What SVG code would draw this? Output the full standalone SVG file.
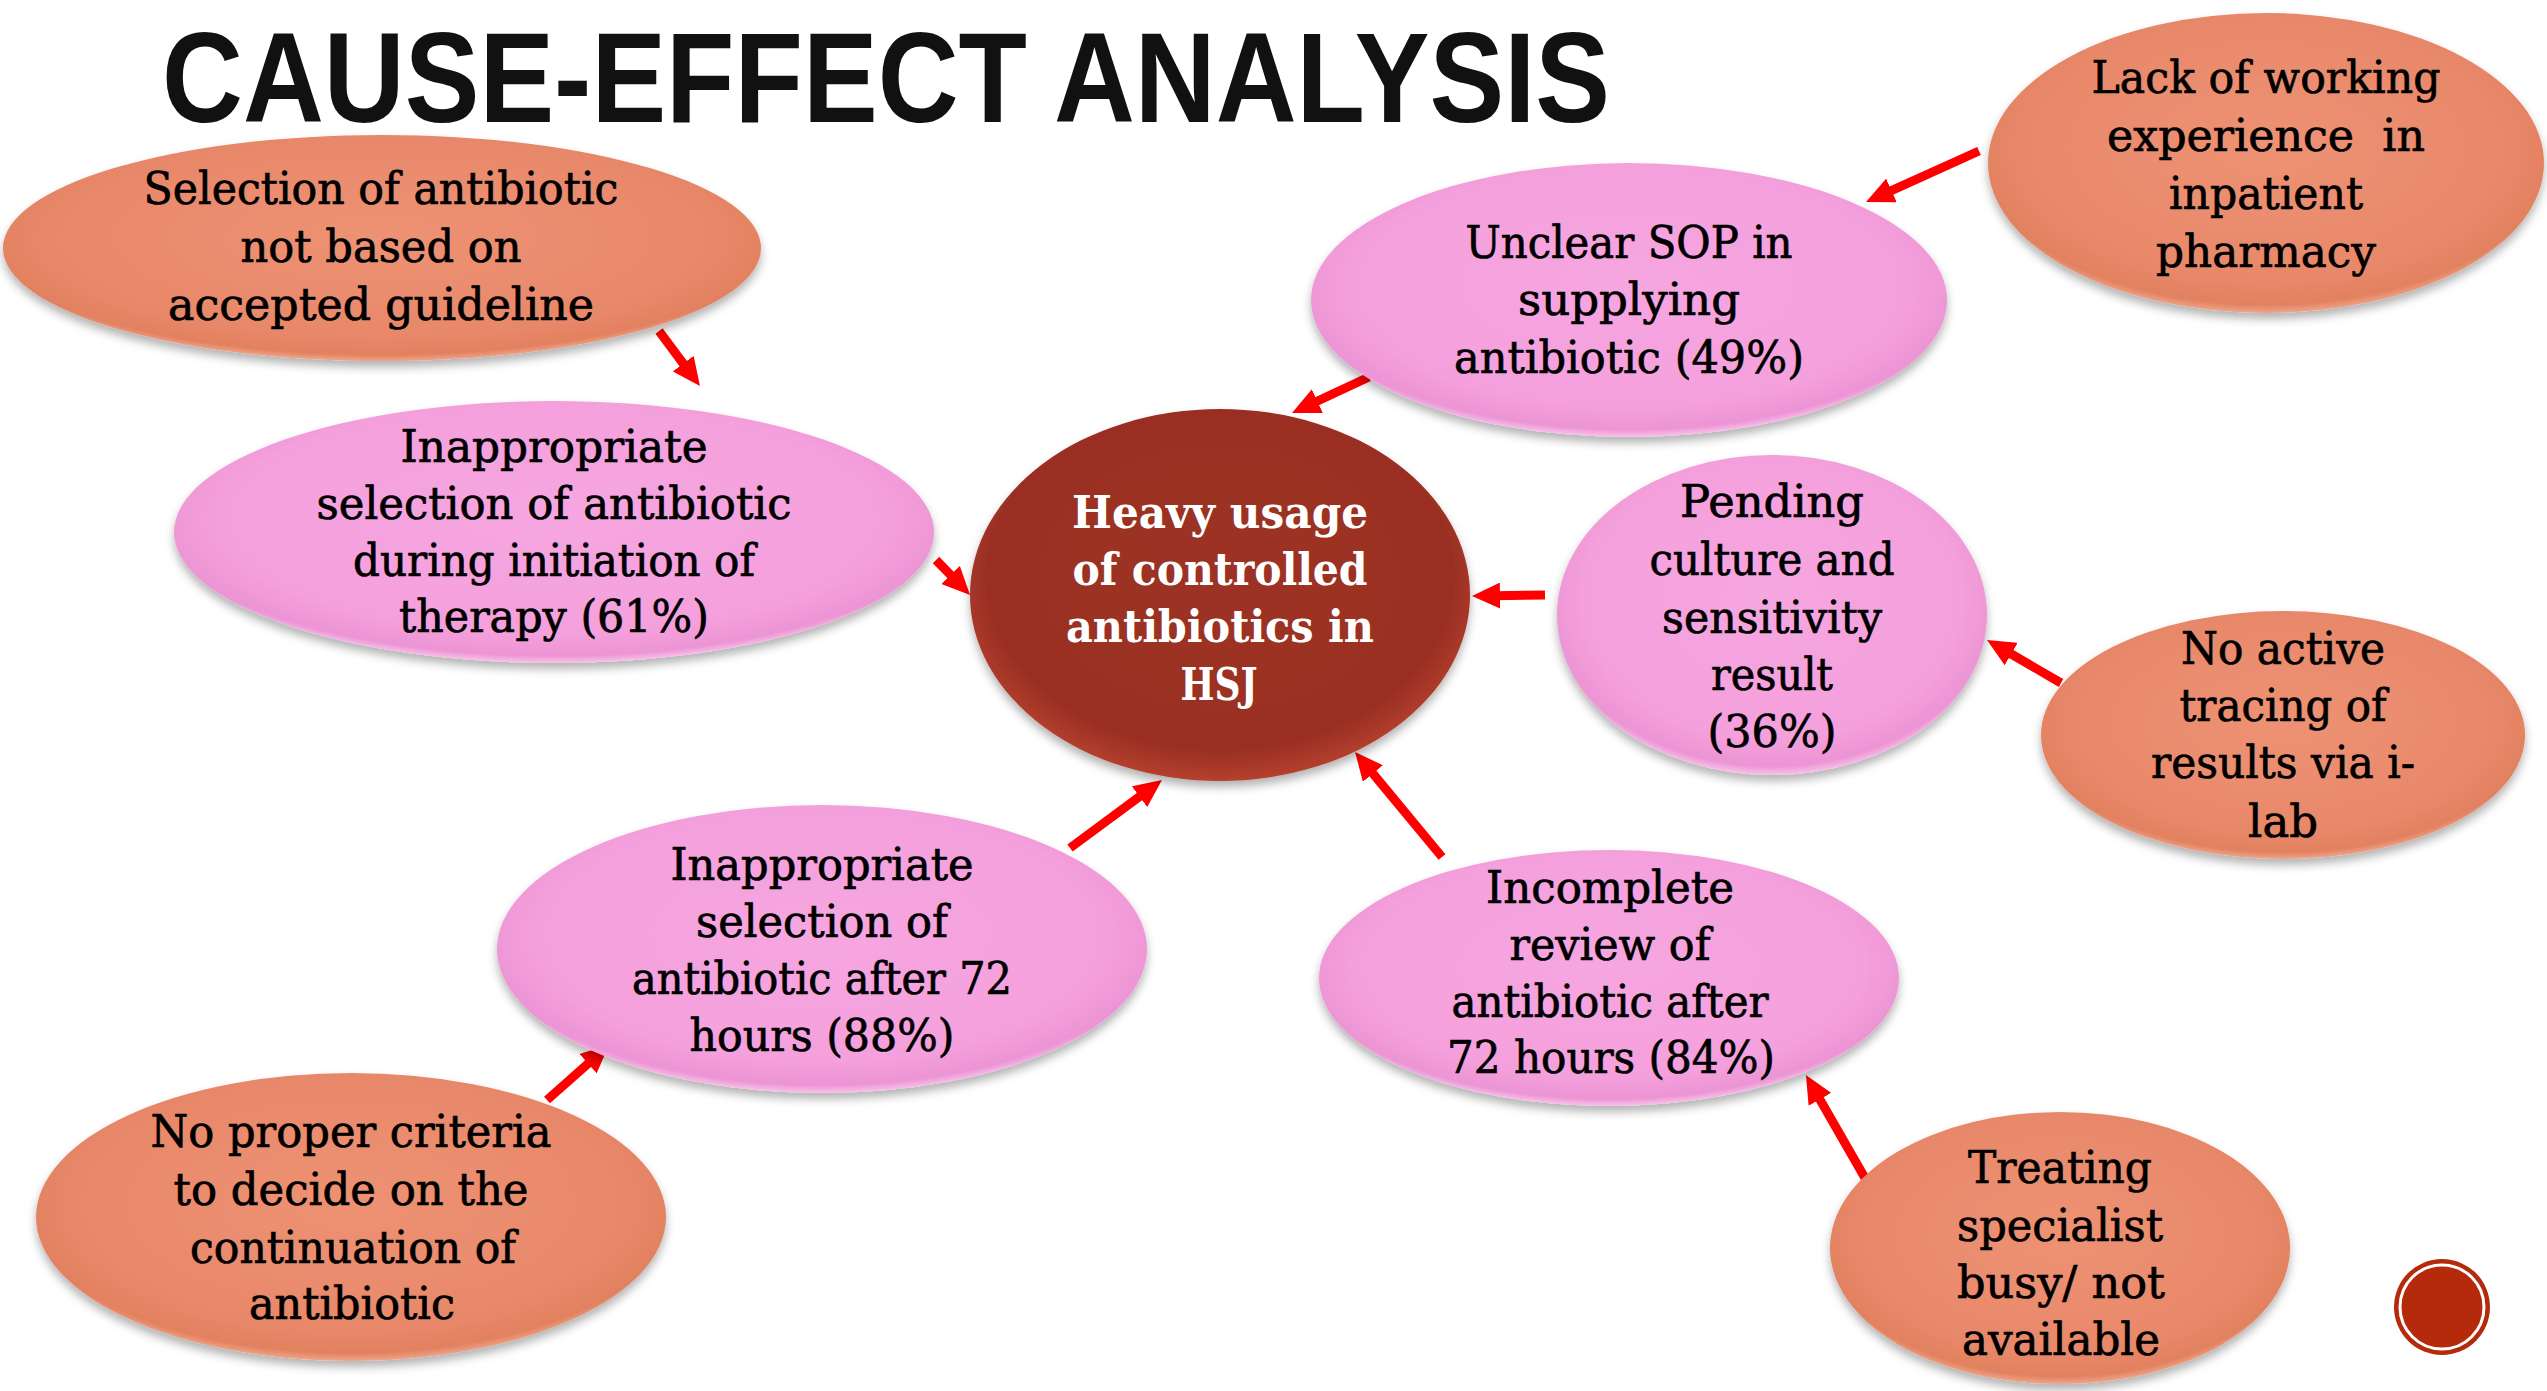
<svg xmlns="http://www.w3.org/2000/svg" width="2547" height="1391" viewBox="0 0 2547 1391">
<defs>
<style>
.t{font-family:"DejaVu Serif","Liberation Serif",serif;font-size:44px;fill:#000;stroke:#000;stroke-width:0.7px;text-anchor:middle}
.tc{font-family:"DejaVu Serif","Liberation Serif",serif;font-size:45px;font-weight:bold;fill:#fff;text-anchor:middle}
.title{font-family:"Liberation Sans","DejaVu Sans",sans-serif;font-size:128px;font-weight:bold;fill:#111}
.orange{fill:url(#gOr);filter:url(#sh)}
.pink{fill:url(#gPk);filter:url(#sh)}
.core{fill:url(#gCore);filter:url(#sh)}
.arr{stroke:#ff0000;stroke-width:9;fill:none;marker-end:url(#ah)}
</style>
<radialGradient id="gOr" cx="50%" cy="45%" r="55%">
<stop offset="0" stop-color="#EE9274"/>
<stop offset="0.8" stop-color="#E8886A"/>
<stop offset="0.95" stop-color="#E2815F"/>
<stop offset="1" stop-color="#EFA58A"/>
</radialGradient>
<radialGradient id="gPk" cx="50%" cy="45%" r="55%">
<stop offset="0" stop-color="#F6A6E0"/>
<stop offset="0.8" stop-color="#F4A0DC"/>
<stop offset="0.95" stop-color="#EC94D4"/>
<stop offset="1" stop-color="#F8C2EA"/>
</radialGradient>
<radialGradient id="gCore" cx="50%" cy="45%" r="55%">
<stop offset="0" stop-color="#9C3125"/>
<stop offset="0.85" stop-color="#9A2F23"/>
<stop offset="1" stop-color="#B5402E"/>
</radialGradient>
<filter id="sh" x="-10%" y="-10%" width="120%" height="125%">
<feDropShadow dx="0" dy="6" stdDeviation="5" flood-color="#000" flood-opacity="0.3"/>
</filter>
<marker id="ah" markerUnits="userSpaceOnUse" markerWidth="28" markerHeight="26" refX="8" refY="13" orient="auto">
<path d="M0,0 L28,13 L0,26 z" fill="#ff0000"/>
</marker>
</defs>
<rect width="2547" height="1391" fill="#fff"/>
<text class="title" x="162" y="122" textLength="1448" lengthAdjust="spacingAndGlyphs">CAUSE-EFFECT ANALYSIS</text>

<g id="connectors">
<line class="arr" x1="659" y1="331" x2="688" y2="370"/>
<line class="arr" x1="1369" y1="377" x2="1310.1" y2="404.5"/>
<line class="arr" x1="1979" y1="151" x2="1884.2" y2="193.8"/>
<line class="arr" x1="936" y1="560" x2="956.1" y2="580.7"/>
<line class="arr" x1="1545" y1="595" x2="1492" y2="595.7"/>
<line class="arr" x1="2061" y1="683" x2="2004.3" y2="650"/>
<line class="arr" x1="1070" y1="848" x2="1145.9" y2="791.9"/>
<line class="arr" x1="1442" y1="857" x2="1367.8" y2="767.4"/>
<line class="arr" x1="547" y1="1100" x2="594" y2="1058.3"/>
<line class="arr" x1="1865" y1="1178" x2="1815.9" y2="1092.4"/>
</g>

<g id="nodeA">
<ellipse class="orange" cx="382" cy="248" rx="379" ry="113"/>
<text class="t" x="381" y="204" textLength="475" lengthAdjust="spacingAndGlyphs">Selection of antibiotic</text>
<text class="t" x="381" y="262" textLength="281" lengthAdjust="spacingAndGlyphs">not based on</text>
<text class="t" x="381" y="320" textLength="426" lengthAdjust="spacingAndGlyphs">accepted guideline</text>
</g>

<g id="nodeB">
<ellipse class="pink" cx="554" cy="532" rx="380" ry="131"/>
<text class="t" x="554" y="462" textLength="307" lengthAdjust="spacingAndGlyphs">Inappropriate</text>
<text class="t" x="554" y="519" textLength="475" lengthAdjust="spacingAndGlyphs">selection of antibiotic</text>
<text class="t" x="554" y="576" textLength="402" lengthAdjust="spacingAndGlyphs">during initiation of</text>
<text class="t" x="554" y="632" textLength="310" lengthAdjust="spacingAndGlyphs">therapy (61%)</text>
</g>

<g id="nodeC">
<ellipse class="core" cx="1220" cy="595" rx="250" ry="186"/>
<text class="tc" x="1220" y="528" textLength="296" lengthAdjust="spacingAndGlyphs">Heavy usage</text>
<text class="tc" x="1220" y="585" textLength="295" lengthAdjust="spacingAndGlyphs">of controlled</text>
<text class="tc" x="1220" y="642" textLength="308" lengthAdjust="spacingAndGlyphs">antibiotics in</text>
<text class="tc" x="1219" y="700" textLength="77" lengthAdjust="spacingAndGlyphs">HSJ</text>
</g>

<g id="nodeD">
<ellipse class="pink" cx="1629" cy="300" rx="318" ry="137"/>
<text class="t" x="1629" y="258" textLength="327" lengthAdjust="spacingAndGlyphs">Unclear SOP in</text>
<text class="t" x="1629" y="315" textLength="222" lengthAdjust="spacingAndGlyphs">supplying</text>
<text class="t" x="1629" y="373" textLength="350" lengthAdjust="spacingAndGlyphs">antibiotic (49%)</text>
</g>

<g id="nodeE">
<ellipse class="orange" cx="2266" cy="163" rx="278" ry="150"/>
<text class="t" x="2266" y="93" textLength="349" lengthAdjust="spacingAndGlyphs">Lack of working</text>
<text class="t" x="2266" y="151" textLength="318" lengthAdjust="spacingAndGlyphs" xml:space="preserve">experience  in</text>
<text class="t" x="2266" y="209" textLength="194" lengthAdjust="spacingAndGlyphs">inpatient</text>
<text class="t" x="2266" y="267" textLength="220" lengthAdjust="spacingAndGlyphs">pharmacy</text>
</g>

<g id="nodeF">
<ellipse class="pink" cx="1772" cy="615" rx="215" ry="160"/>
<text class="t" x="1772" y="517" textLength="184" lengthAdjust="spacingAndGlyphs">Pending</text>
<text class="t" x="1772" y="575" textLength="245" lengthAdjust="spacingAndGlyphs">culture and</text>
<text class="t" x="1772" y="633" textLength="220" lengthAdjust="spacingAndGlyphs">sensitivity</text>
<text class="t" x="1772" y="690" textLength="122" lengthAdjust="spacingAndGlyphs">result</text>
<text class="t" x="1772" y="747" textLength="129" lengthAdjust="spacingAndGlyphs">(36%)</text>
</g>

<g id="nodeG">
<ellipse class="orange" cx="2283" cy="735" rx="242" ry="124"/>
<text class="t" x="2283" y="664" textLength="204" lengthAdjust="spacingAndGlyphs">No active</text>
<text class="t" x="2283" y="721" textLength="207" lengthAdjust="spacingAndGlyphs">tracing of</text>
<text class="t" x="2283" y="778" textLength="264" lengthAdjust="spacingAndGlyphs">results via i-</text>
<text class="t" x="2283" y="837" textLength="70" lengthAdjust="spacingAndGlyphs">lab</text>
</g>

<g id="nodeH">
<ellipse class="pink" cx="822" cy="949" rx="325" ry="144"/>
<text class="t" x="822" y="880" textLength="303" lengthAdjust="spacingAndGlyphs">Inappropriate</text>
<text class="t" x="822" y="937" textLength="252" lengthAdjust="spacingAndGlyphs">selection of</text>
<text class="t" x="822" y="994" textLength="380" lengthAdjust="spacingAndGlyphs">antibiotic after 72</text>
<text class="t" x="822" y="1051" textLength="265" lengthAdjust="spacingAndGlyphs">hours (88%)</text>
</g>

<g id="nodeI">
<ellipse class="pink" cx="1609" cy="978" rx="290" ry="128"/>
<text class="t" x="1610" y="903" textLength="248" lengthAdjust="spacingAndGlyphs">Incomplete</text>
<text class="t" x="1610" y="960" textLength="201" lengthAdjust="spacingAndGlyphs">review of</text>
<text class="t" x="1610" y="1017" textLength="317" lengthAdjust="spacingAndGlyphs">antibiotic after</text>
<text class="t" x="1611" y="1073" textLength="328" lengthAdjust="spacingAndGlyphs">72 hours (84%)</text>
</g>

<g id="nodeJ">
<ellipse class="orange" cx="351" cy="1217" rx="315" ry="144"/>
<text class="t" x="351" y="1147" textLength="401" lengthAdjust="spacingAndGlyphs">No proper criteria</text>
<text class="t" x="351" y="1205" textLength="355" lengthAdjust="spacingAndGlyphs">to decide on the</text>
<text class="t" x="353" y="1263" textLength="326" lengthAdjust="spacingAndGlyphs">continuation of</text>
<text class="t" x="352" y="1319" textLength="206" lengthAdjust="spacingAndGlyphs">antibiotic</text>
</g>

<g id="nodeK">
<ellipse class="orange" cx="2060" cy="1248" rx="230" ry="136"/>
<text class="t" x="2060" y="1183" textLength="184" lengthAdjust="spacingAndGlyphs">Treating</text>
<text class="t" x="2060" y="1241" textLength="206" lengthAdjust="spacingAndGlyphs">specialist</text>
<text class="t" x="2061" y="1298" textLength="208" lengthAdjust="spacingAndGlyphs">busy/ not</text>
<text class="t" x="2061" y="1355" textLength="198" lengthAdjust="spacingAndGlyphs">available</text>
</g>

<g id="badge">
<circle cx="2442" cy="1307" r="48" fill="#B42A0A"/>
<circle cx="2442" cy="1307" r="42" fill="none" stroke="#fff" stroke-width="3"/>
</g>
</svg>
